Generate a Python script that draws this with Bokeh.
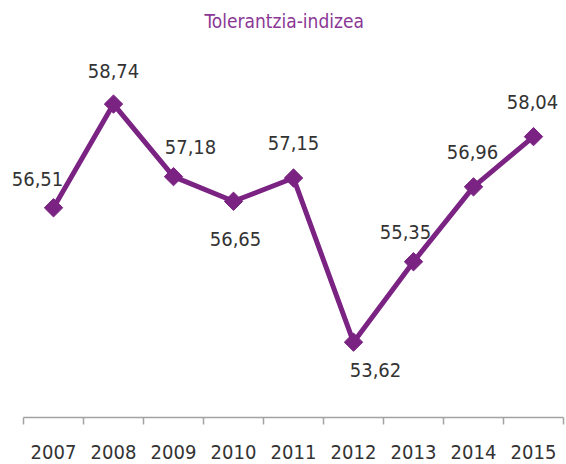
from bokeh.plotting import figure
from bokeh.models import ColumnDataSource, FixedTicker, Range1d
from bokeh.core.properties import value
from bokeh.embed import file_html
from bokeh.resources import INLINE

# ---- data ----
years = ["2007", "2008", "2009", "2010", "2011", "2012", "2013", "2014", "2015"]
index_values = [56.51, 58.74, 57.18, 56.65, 57.15, 53.62, 55.35, 56.96, 58.04]
title_text = "Tolerantzia-indizea"
y_base = 52.0

# label placement (screen pixel offsets, styling only)
label_dx = [-16, 0, 17, 2, 0, 22, -8, -1, -1]
label_dy = [-29, -33, -30, 38, -35, 28, -30, -35, -35]

FONT = "DejaVu Sans Condensed"
LINE_COLOR = "#7B2383"
TITLE_COLOR = "#8A3795"
TEXT_COLOR = "#333333"
AXIS_COLOR = "#A3A3A3"

# layout constants (pixels)
W, H = 566, 464
LEFT_PAD_PX = 23      # blank room left of the first category boundary
CAT_PX = 60           # width of one category
AXIS_Y_PX = 417       # axis line position from top
PX_PER_UNIT = 46.5    # vertical scale
TITLE_LEFT_PX = 204
TITLE_MID_PX = 20

n = len(years)
xs = list(range(1, n + 1))
labels = [f"{v:.2f}".replace(".", ",") for v in index_values]
src = ColumnDataSource(dict(x=xs, y=index_values, lab=labels, dx=label_dx, dy=label_dy))

x0 = 0.5 - LEFT_PAD_PX / CAT_PX
y1 = y_base + AXIS_Y_PX / PX_PER_UNIT
p = figure(width=W, height=H, output_backend="svg", toolbar_location=None,
           x_range=Range1d(x0, n + 0.5), y_range=Range1d(y_base, y1),
           y_axis_location=None, min_border_left=0, min_border_right=W - LEFT_PAD_PX - n * CAT_PX,
           min_border_top=0, min_border_bottom=H - AXIS_Y_PX)
p.outline_line_color = None
p.grid.grid_line_color = None
p.background_fill_color = "white"
p.border_fill_color = "white"

# title as text inside the (full-height) frame
p.text(x=[x0 + TITLE_LEFT_PX / CAT_PX], y=[y1 - TITLE_MID_PX / PX_PER_UNIT], text=[title_text],
       text_align="left", text_baseline="middle", text_font=value(FONT),
       text_font_size="19px", text_color=TITLE_COLOR)

p.line("x", "y", source=src, line_color=LINE_COLOR, line_width=5, line_join="round")
p.scatter("x", "y", source=src, marker="square", size=13, angle=0.785398,
          fill_color=LINE_COLOR, line_color=LINE_COLOR, line_width=1, line_join="round")
p.text("x", "y", text="lab", source=src, x_offset="dx", y_offset="dy",
       text_align="center", text_baseline="middle", text_font=value(FONT),
       text_font_size="20px", text_color=TEXT_COLOR)

ax = p.xaxis[0]
ax.bounds = (0.5, n + 0.5)
ax.ticker = FixedTicker(ticks=xs, minor_ticks=[x - 0.5 for x in xs] + [xs[-1] + 0.5])
ax.major_label_overrides = {x: y for x, y in zip(xs, years)}
ax.axis_line_color = AXIS_COLOR
ax.axis_line_width = 1.5
ax.major_tick_line_color = None
ax.major_tick_in = 0
ax.major_tick_out = 0
ax.minor_tick_line_color = AXIS_COLOR
ax.minor_tick_line_width = 1.5
ax.minor_tick_in = 0
ax.minor_tick_out = 7
ax.major_label_standoff = 20
ax.major_label_text_font = FONT
ax.major_label_text_font_size = "20px"
ax.major_label_text_color = TEXT_COLOR

open("out.html", "w").write(file_html(p, INLINE))
